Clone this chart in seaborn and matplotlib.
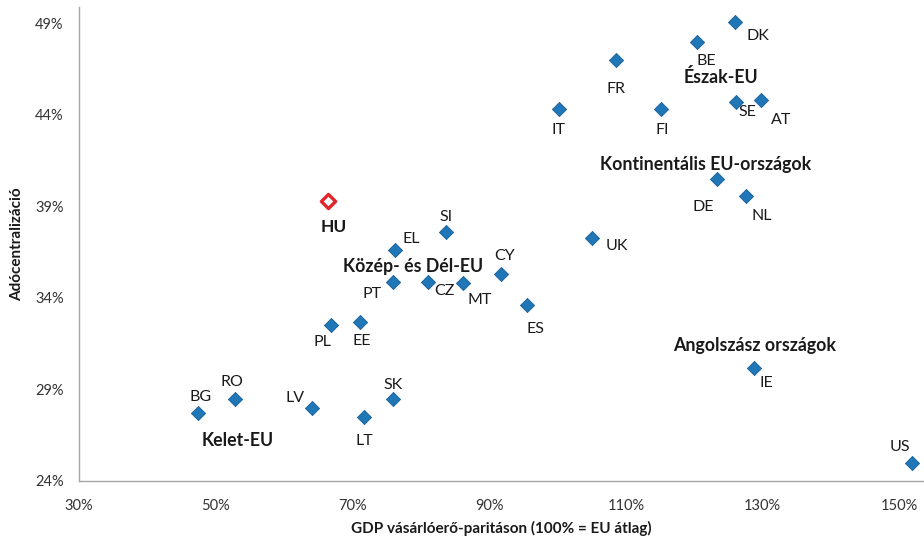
import matplotlib
matplotlib.use("Agg")
import matplotlib.pyplot as plt
import pandas as pd
import seaborn as sns
from matplotlib.ticker import FuncFormatter, FixedLocator

# GDP at purchasing power parity (EU average = 100) and tax centralisation (%)
countries = ["DK", "BE", "FR", "IT", "FI", "SE", "AT", "DE", "NL", "SI", "EL",
             "UK", "CY", "PT", "CZ", "MT", "ES", "PL", "EE", "SK", "LT", "LV",
             "BG", "RO", "IE", "US"]
gdp_ppp = [125.9, 120.4, 108.5, 100.2, 115.1, 126.1, 129.7, 123.3, 127.5, 83.7, 76.2,
           105.0, 91.7, 75.9, 81.0, 86.1, 95.5, 66.8, 71.1, 75.9, 71.7, 64.1,
           47.4, 52.8, 128.7, 151.9]
tax_central = [49.1, 48.0, 47.0, 44.3, 44.3, 44.7, 44.8, 40.5, 39.6, 37.6, 36.6,
               37.3, 35.3, 34.9, 34.9, 34.8, 33.6, 32.5, 32.7, 28.5, 27.5, 28.0,
               27.7, 28.5, 30.2, 25.0]

hu_label = "HU"
hu_gdp = 66.4
hu_tax = 39.3

group_names = ["Észak-EU", "Kontinentális EU-országok", "Közép- és Dél-EU",
               "Angolszász országok", "Kelet-EU"]
group_x = [123.9, 121.7, 78.8, 128.8, 53.2]
group_y = [46.1, 41.3, 35.7, 31.4, 26.2]

x_ticks = [30, 50, 70, 90, 110, 130, 150]
y_ticks = [24, 29, 34, 39, 44, 49]

# label offsets in points (dx, dy) relative to each marker
label_offsets = {
    "DK": (17, -10), "BE": (7, -14), "FR": (0, -21), "IT": (0, -15),
    "FI": (1, -15), "SE": (8, -7), "AT": (15, -14), "DE": (-10, -20),
    "NL": (12, -15), "SI": (0, 11), "EL": (12, 8), "UK": (18, -6),
    "CY": (3, 13), "PT": (-15, -9), "CZ": (12, -7), "MT": (12, -12),
    "ES": (6, -17), "PL": (-6, -12), "EE": (1, -14), "SK": (0, 10),
    "LT": (0, -17), "LV": (-12, 7), "BG": (2, 12), "RO": (-2, 12),
    "IE": (9, -11), "US": (-9, 11),
}

df = pd.DataFrame({"country": countries, "gdp": gdp_ppp, "tax": tax_central})
hu = pd.DataFrame({"country": [hu_label], "gdp": [hu_gdp], "tax": [hu_tax]})

sns.set_theme(style="white")
plt.rcParams["font.family"] = ["Lato", "DejaVu Sans"]

fig = plt.figure(figsize=(9.24, 5.43), dpi=100)
ax = fig.add_axes([79 / 924, 1 - 481 / 543, (924 - 79) / 924, (481 - 7) / 543])

sns.scatterplot(data=df, x="gdp", y="tax", marker="D", s=52, color="#1F77B8",
                edgecolor="#1A5F96", linewidth=0.6, ax=ax, legend=False, zorder=3)
sns.scatterplot(data=hu, x="gdp", y="tax", marker="D", s=52, color="white",
                edgecolor="#E3262B", linewidth=2.4, ax=ax, legend=False, zorder=4)

for c, gx, ty in zip(countries, gdp_ppp, tax_central):
    dx, dy = label_offsets[c]
    ax.annotate(c, (gx, ty), xytext=(dx, dy), textcoords="offset points",
                ha="center", va="center", fontsize=11.5, color="#1a1a1a")

ax.annotate(hu_label, (hu_gdp, hu_tax), xytext=(4, -19), textcoords="offset points",
            ha="center", va="center", fontsize=12.5, fontweight="bold", color="#1a1a1a")

for name, gx, gy in zip(group_names, group_x, group_y):
    ax.text(gx, gy, name, ha="center", va="center", fontsize=12.8,
            fontweight="bold", color="#1a1a1a")

ax.set_xlim(30, 153.6)
ax.set_ylim(24, 49.9)
ax.xaxis.set_major_locator(FixedLocator(x_ticks))
ax.yaxis.set_major_locator(FixedLocator(y_ticks))
ax.xaxis.set_major_formatter(FuncFormatter(lambda v, p: f"{v:.0f}%"))
ax.yaxis.set_major_formatter(FuncFormatter(lambda v, p: f"{v:.0f}%"))

for side in ["top", "right"]:
    ax.spines[side].set_visible(False)
for side in ["left", "bottom"]:
    ax.spines[side].set_color("#A6A6A6")
    ax.spines[side].set_linewidth(1.0)

ax.tick_params(axis="both", which="major", direction="out", length=5, width=1,
               color="#A6A6A6", labelsize=10.5, labelcolor="#333333")
ax.tick_params(axis="x", pad=8)
ax.tick_params(axis="y", pad=6)

ax.set_xlabel("GDP vásárlóerő-paritáson (100% = EU átlag)", fontsize=11,
              fontweight="bold", color="#1a1a1a", labelpad=6)
ax.set_ylabel("Adócentralizáció", fontsize=11, fontweight="bold",
              color="#1a1a1a", labelpad=8)

fig.savefig("out.png", dpi=100, facecolor="white")
